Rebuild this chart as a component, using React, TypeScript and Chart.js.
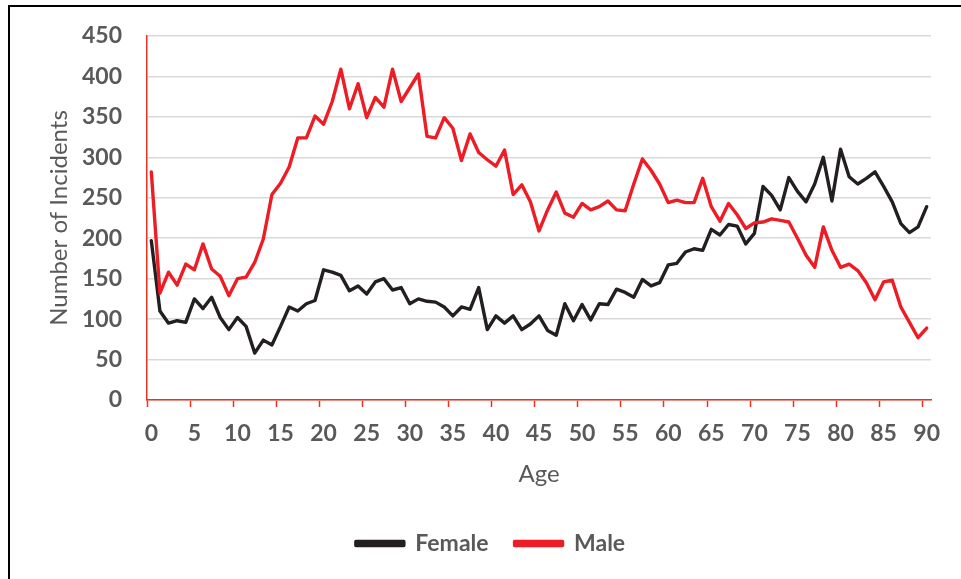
import React, { useEffect, useRef } from "react";
import { Chart, registerables } from "chart.js";

Chart.register(...registerables);

const ages: string[] = Array.from({ length: 91 }, (_, i) => String(i));

const female: number[] = [
  197, 110, 95, 98, 96, 125, 113, 127, 102, 87,
  102, 91, 58, 74, 68, 91, 115, 110, 119, 123,
  161, 158, 154, 135, 141, 131, 146, 150, 136, 139,
  119, 125, 122, 121, 115, 104, 115, 112, 139, 87,
  104, 95, 104, 87, 94, 104, 86, 80, 119, 98,
  118, 99, 119, 118, 137, 133, 127, 149, 141, 145,
  167, 169, 183, 187, 185, 211, 204, 217, 215, 193,
  206, 264, 253, 235, 275, 258, 245, 267, 300, 246,
  310, 276, 267, 274, 282, 264, 245, 218, 207, 214,
  239,
];

const male: number[] = [
  282, 132, 158, 142, 168, 161, 193, 162, 153, 129,
  150, 152, 170, 199, 254, 268, 288, 324, 324, 351,
  341, 369, 409, 360, 391, 349, 374, 362, 409, 369,
  386, 403, 326, 324, 349, 336, 296, 329, 306, 297,
  289, 309, 254, 266, 245, 209, 235, 257, 231, 226,
  243, 235, 239, 246, 235, 234, 267, 298, 284, 267,
  244, 247, 244, 244, 274, 239, 221, 243, 229, 212,
  219, 220, 224, 222, 220, 200, 179, 164, 214, 185,
  164, 168, 160, 145, 124, 146, 148, 115, 96, 77,
  89,
];

const seriesNames: string[] = ["Female", "Male"];
const yTitle = "Number of Incidents";
const xTitle = "Age";

const FONT = "Lato, 'Open Sans', sans-serif";
const GREY = "#595959";
const AXIS_RED = "#f2301f";
const FEMALE_COLOR = "#231f20";
const MALE_COLOR = "#ee1c25";

const legendShift = {
  id: "legendShift",
  afterLayout(chart: any) {
    const lg = chart.legend;
    if (lg) {
      lg.left += 20;
      lg.right += 20;
    }
  },
};

export default function App() {
  const canvasRef = useRef<HTMLCanvasElement | null>(null);

  useEffect(() => {
    if (!canvasRef.current) return;
    const chart = new Chart(canvasRef.current, {
      type: "line",
      data: {
        labels: ages,
        datasets: [
          {
            label: seriesNames[0],
            data: female,
            borderColor: FEMALE_COLOR,
            backgroundColor: FEMALE_COLOR,
            borderWidth: 3.4,
            pointRadius: 0,
            tension: 0,
            borderJoinStyle: "round",
            borderCapStyle: "round",
            order: 1,
          },
          {
            label: seriesNames[1],
            data: male,
            borderColor: MALE_COLOR,
            backgroundColor: MALE_COLOR,
            borderWidth: 3.4,
            pointRadius: 0,
            tension: 0,
            borderJoinStyle: "round",
            borderCapStyle: "round",
            order: 0,
          },
        ],
      },
      plugins: [legendShift],
      options: {
        responsive: false,
        animation: false,
        layout: { padding: { top: 29, left: 0, right: 30, bottom: 14 } },
        plugins: {
          tooltip: { enabled: false },
          legend: {
            position: "bottom",
            labels: {
              boxWidth: 48,
              boxHeight: 4,
              padding: 26,
              color: GREY,
              font: { family: FONT, size: 23, weight: "bold" },
              sort: (a: any, b: any) => a.datasetIndex - b.datasetIndex,
            },
          },
        },
        scales: {
          x: {
            type: "category",
            offset: true,
            grid: {
              offset: true,
              drawOnChartArea: false,
              drawTicks: true,
              tickLength: 7,
              tickWidth: 1.5,
              tickColor: (ctx: any) =>
                typeof ctx.index === "number" && ctx.index % 5 === 0 ? AXIS_RED : "rgba(0,0,0,0)",
            },
            border: { display: true, color: AXIS_RED, width: 1.5 },
            ticks: {
              autoSkip: false,
              maxRotation: 0,
              minRotation: 0,
              padding: 12.5,
              color: GREY,
              font: { family: FONT, size: 23, weight: "bold" },
              callback: (_v: any, i: number) => (i % 5 === 0 ? ages[i] : ""),
            },
            title: {
              display: true,
              text: xTitle,
              color: GREY,
              font: { family: FONT, size: 24 },
              padding: { top: 0, bottom: 17 },
            },
            afterFit: (scale: any) => {
              scale.height = 106;
            },
          },
          y: {
            min: 0,
            max: 450,
            grid: {
              color: "#d9d9d9",
              lineWidth: 1.5,
              drawTicks: true,
              tickLength: 25,
              tickColor: "rgba(0,0,0,0)",
            },
            border: { display: true, color: AXIS_RED, width: 1.5 },
            ticks: {
              stepSize: 50,
              padding: 0,
              color: GREY,
              font: { family: FONT, size: 23, weight: "bold" },
            },
            title: {
              display: true,
              text: yTitle,
              color: GREY,
              font: { family: FONT, size: 24 },
              padding: { top: 35, bottom: 0 },
            },
            afterFit: (scale: any) => {
              scale.width = 137;
            },
          },
        },
      },
    });
    return () => chart.destroy();
  }, []);

  return (
    <div
      style={{
        position: "absolute",
        left: 8,
        top: 5,
        width: 953,
        height: 574,
        borderTop: "2px solid #000",
        borderLeft: "2px solid #000",
        boxSizing: "border-box",
        background: "#fff",
      }}
    >
      <canvas ref={canvasRef} width={951} height={572} style={{ display: "block" }} />
    </div>
  );
}
